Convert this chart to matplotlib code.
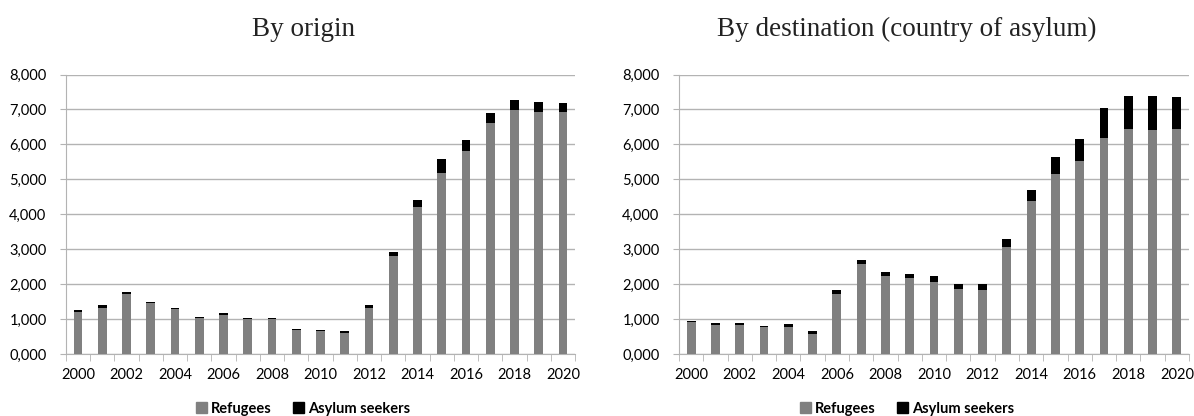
import matplotlib.pyplot as plt
import numpy as np
from matplotlib.patches import Patch

years = list(range(2000, 2021))

# by origin (thousands)
origin_refugees = [1190, 1330, 1720, 1460, 1290, 1035, 1110, 1005, 1005, 678, 650, 612,
                   1308, 2800, 4200, 5180, 5820, 6605, 6970, 6920, 6920]
origin_asylum = [80, 80, 65, 35, 30, 35, 55, 28, 35, 28, 38, 46,
                 85, 130, 200, 410, 315, 280, 300, 300, 260]

# by destination (country of asylum)
dest_refugees = [910, 825, 820, 772, 765, 565, 1710, 2590, 2235, 2168, 2072, 1852,
                 1823, 3063, 4370, 5143, 5515, 6180, 6440, 6410, 6440]
dest_asylum = [45, 72, 58, 40, 103, 84, 113, 92, 112, 132, 151, 161,
               171, 219, 315, 487, 630, 850, 940, 970, 930]

titles = ["By origin", "By destination (country of asylum)"]
yticks = [0, 1000, 2000, 3000, 4000, 5000, 6000, 7000, 8000]
ytick_labels = ["%d,000" % (v // 1000) for v in yticks]

GREY = "#808080"
GRID = "#b3b3b3"

fig = plt.figure(figsize=(11.94, 4.16), dpi=100)
axes = [fig.add_axes([66/1194, 62/416, 509/1194, 279.5/416]),
        fig.add_axes([679/1194, 62/416, 510/1194, 279.5/416])]

data = [(origin_refugees, origin_asylum), (dest_refugees, dest_asylum)]
# title / legend centres (chart area rather than plot area)
centres = [303/1194, 907/1194]
x = np.arange(len(years))

for ax, (ref, asy), title, cx in zip(axes, data, titles, centres):
    ax.bar(x, ref, width=0.36, color=GREY, zorder=3)
    ax.bar(x, asy, width=0.36, bottom=ref, color="black", zorder=3)

    ax.set_xlim(-0.5, 20.5)
    ax.set_ylim(0, 8000)
    ax.set_yticks(yticks)
    ax.set_yticklabels(ytick_labels, family="Lato", fontsize=10.5)
    ax.yaxis.grid(True, color=GRID, linewidth=1, zorder=0)
    ax.tick_params(axis="y", length=4, color=GRID, pad=10)

    ax.set_xticks(x[::2])
    ax.set_xticklabels([str(y) for y in years[::2]], family="Lato", fontsize=10.5)
    ax.set_xticks(np.arange(-0.5, 21), minor=True)
    ax.tick_params(axis="x", which="major", length=0, pad=10)
    ax.tick_params(axis="x", which="minor", length=5, color=GRID)

    for s in ["top", "right"]:
        ax.spines[s].set_visible(False)
    ax.spines["left"].set_color(GRID)
    ax.spines["bottom"].set_color(GRID)

    fig.text(cx, 0.929, title, ha="center", va="center",
             family="Liberation Serif", fontsize=19.5, color="#222222")

    handles = [Patch(color=GREY, label="Refugees"),
               Patch(color="black", label="Asylum seekers")]
    fig.legend(handles=handles, loc="center", bbox_to_anchor=(cx, 0.018),
               ncol=2, frameon=False, handlelength=0.75, handleheight=0.75,
               handletextpad=0.25, columnspacing=1.5,
               prop={"family": "Lato", "weight": "bold", "size": 10.5})

fig.savefig("out.png", dpi=100)
